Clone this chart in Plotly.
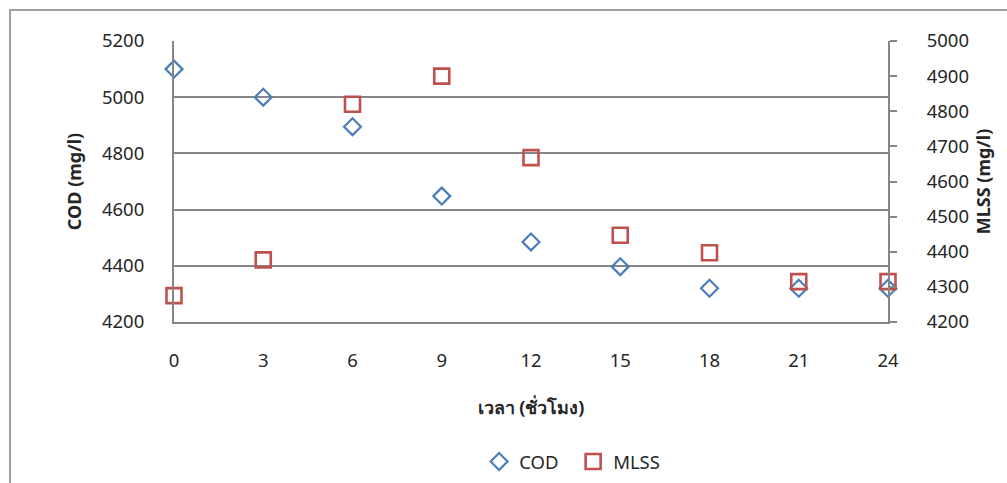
import plotly.graph_objects as go

hours = [0, 3, 6, 9, 12, 15, 18, 21, 24]
cod = [5100, 5000, 4895, 4648, 4485, 4397, 4320, 4320, 4320]
mlss = [4275, 4377, 4820, 4900, 4668, 4447, 4397, 4315, 4315]
cod_ticks = [4200, 4400, 4600, 4800, 5000, 5200]
mlss_ticks = [4200, 4300, 4400, 4500, 4600, 4700, 4800, 4900, 5000]

FONT = "Noto Sans, DejaVu Sans, sans-serif"
GRID = "#868686"

fig = go.Figure()
fig.add_trace(go.Scatter(
    x=hours, y=cod, mode="markers", name="COD", yaxis="y",
    marker=dict(symbol="diamond-open", size=13, color="#4a7ebb", line=dict(width=2.2)),
    cliponaxis=False,
))
fig.add_trace(go.Scatter(
    x=hours, y=mlss, mode="markers", name="MLSS", yaxis="y2",
    marker=dict(symbol="square-open", size=15, color="#c0504d", line=dict(width=2.6)),
    cliponaxis=False,
))

fig.update_layout(
    width=1007, height=483,
    margin=dict(l=174, r=119, t=41, b=161, autoexpand=False),
    paper_bgcolor="white", plot_bgcolor="white",
    font=dict(family=FONT, size=18.5, color="#262626"),
    showlegend=True,
    legend=dict(orientation="h", x=0.559, xanchor="center", y=-0.498, yanchor="middle",
                font=dict(size=18.5), itemwidth=30, entrywidth=49, entrywidthmode="pixels",
                tracegroupgap=0, bgcolor="rgba(0,0,0,0)"),
    xaxis=dict(
        range=[0, 24], tickvals=hours, ticks="", showgrid=False, zeroline=False, automargin=False,
        showline=True, linecolor=GRID, linewidth=2, ticklabelstandoff=21,
        title=dict(text="<b>เวลา (ชั่วโมง)</b>", font=dict(size=18), standoff=30),
    ),
    yaxis=dict(
        range=[4200, 5200], tickvals=cod_ticks, ticks="", showgrid=True, gridcolor=GRID, gridwidth=2,
        zeroline=False, showline=True, linecolor=GRID, linewidth=2, ticklabelstandoff=24, automargin=False,
        title=dict(text="<b>COD (mg/l)</b>", font=dict(size=18), standoff=16),
    ),
    yaxis2=dict(
        range=[4200, 5000], tickvals=mlss_ticks, overlaying="y", side="right", automargin=False,
        ticks="outside", ticklen=7, tickwidth=2, tickcolor=GRID, showgrid=False, zeroline=False,
        showline=True, linecolor=GRID, linewidth=2, ticklabelstandoff=26,
        title=dict(text="<b>MLSS (mg/l)</b>", font=dict(size=18), standoff=9),
    ),
    shapes=[dict(type="rect", xref="paper", yref="paper",
                 x0=(10 - 174) / 714, x1=(1012 - 174) / 714,
                 y0=(322 - 500) / 281, y1=(322 - 10) / 281,
                 line=dict(color="#a0a0a0", width=2), fillcolor="rgba(0,0,0,0)", layer="below")],
)

fig.write_html("out.html")
